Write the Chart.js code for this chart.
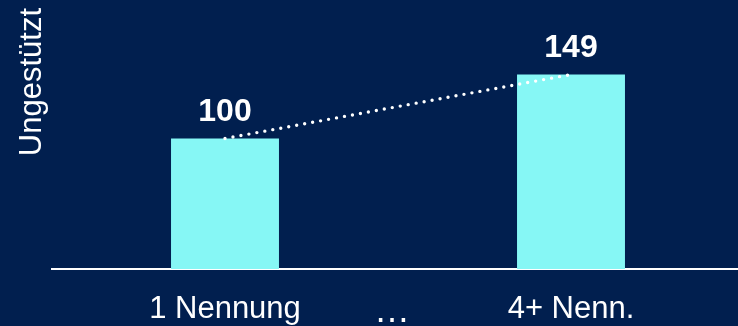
<!DOCTYPE html>
<html lang="de">
<head>
<meta charset="utf-8">
<title>Ungestützt – Nennungen</title>
<script src="https://cdn.jsdelivr.net/npm/chart.js@4.4.1/dist/chart.umd.min.js"></script>
<style>
  html, body { margin: 0; padding: 0; background: #011f4f; overflow: hidden; }
  #wrap { position: relative; width: 738px; height: 326px; overflow: hidden; }
  canvas { display: block; }
</style>
</head>
<body>
<!-- the plot runs slightly past the right edge, so the canvas is a little wider than the frame -->
<div id="wrap"><canvas id="chart" width="744" height="326"></canvas></div>
<script>
// Index of unaided mentions by number of mentions
const categories = ['1 Nennung', '4+ Nenn.'];
const indexValues = [100, 149];
const axisTitle = 'Ungestützt';
const gapLabel = '…';
const yMax = 200;

const FONT = '"Liberation Sans", Arial, Helvetica, sans-serif';
const CYAN = '#86f7f5';
const WHITE = '#ffffff';

// Value labels above the bars plus the ellipsis between the two categories
const annotate = {
  id: 'annotate',
  afterDatasetsDraw(chart) {
    const ctx = chart.ctx;
    const bars = chart.getDatasetMeta(1).data;
    ctx.save();
    ctx.fillStyle = WHITE;
    ctx.textAlign = 'center';
    ctx.textBaseline = 'alphabetic';
    ctx.font = 'bold 32px ' + FONT;
    bars.forEach((bar, i) => {
      ctx.fillText(String(indexValues[i]), bar.x, bar.y - 18);
    });
    const xs = chart.scales.x;
    const mid = (xs.getPixelForTick(0) + xs.getPixelForTick(1)) / 2;
    ctx.font = '36px ' + FONT;
    ctx.fillText(gapLabel, mid - 6, 322);
    ctx.restore();
  }
};

new Chart(document.getElementById('chart'), {
  data: {
    labels: categories,
    datasets: [
      {
        type: 'line',
        data: indexValues,
        borderColor: WHITE,
        borderWidth: 3.4,
        borderDash: [0, 8.1],
        borderCapStyle: 'round',
        pointRadius: 0,
        fill: false,
        order: 0
      },
      {
        type: 'bar',
        data: indexValues,
        backgroundColor: CYAN,
        borderWidth: 0,
        categoryPercentage: 1,
        barPercentage: 0.312,
        order: 1
      }
    ]
  },
  options: {
    responsive: false,
    animation: false,
    devicePixelRatio: 1,
    layout: { padding: { top: 8, right: 0, bottom: 0, left: 0 } },
    plugins: {
      legend: { display: false },
      tooltip: { enabled: false }
    },
    scales: {
      x: {
        grid: { display: false, drawTicks: false },
        border: { display: true, color: WHITE, width: 2 },
        ticks: {
          color: WHITE,
          font: { family: FONT, size: 31 },
          padding: 22,
          maxRotation: 0,
          autoSkip: false
        },
        afterFit(scale) { scale.height = 57; }
      },
      y: {
        min: 0,
        max: yMax,
        grid: { display: false },
        border: { display: false },
        ticks: { display: false },
        title: {
          display: true,
          text: axisTitle,
          color: WHITE,
          align: 'end',
          font: { family: FONT, size: 31 },
          padding: { top: 14, bottom: 0 }
        },
        afterFit(scale) { scale.width = 52; }
      }
    }
  },
  plugins: [annotate]
});
</script>
</body>
</html>
